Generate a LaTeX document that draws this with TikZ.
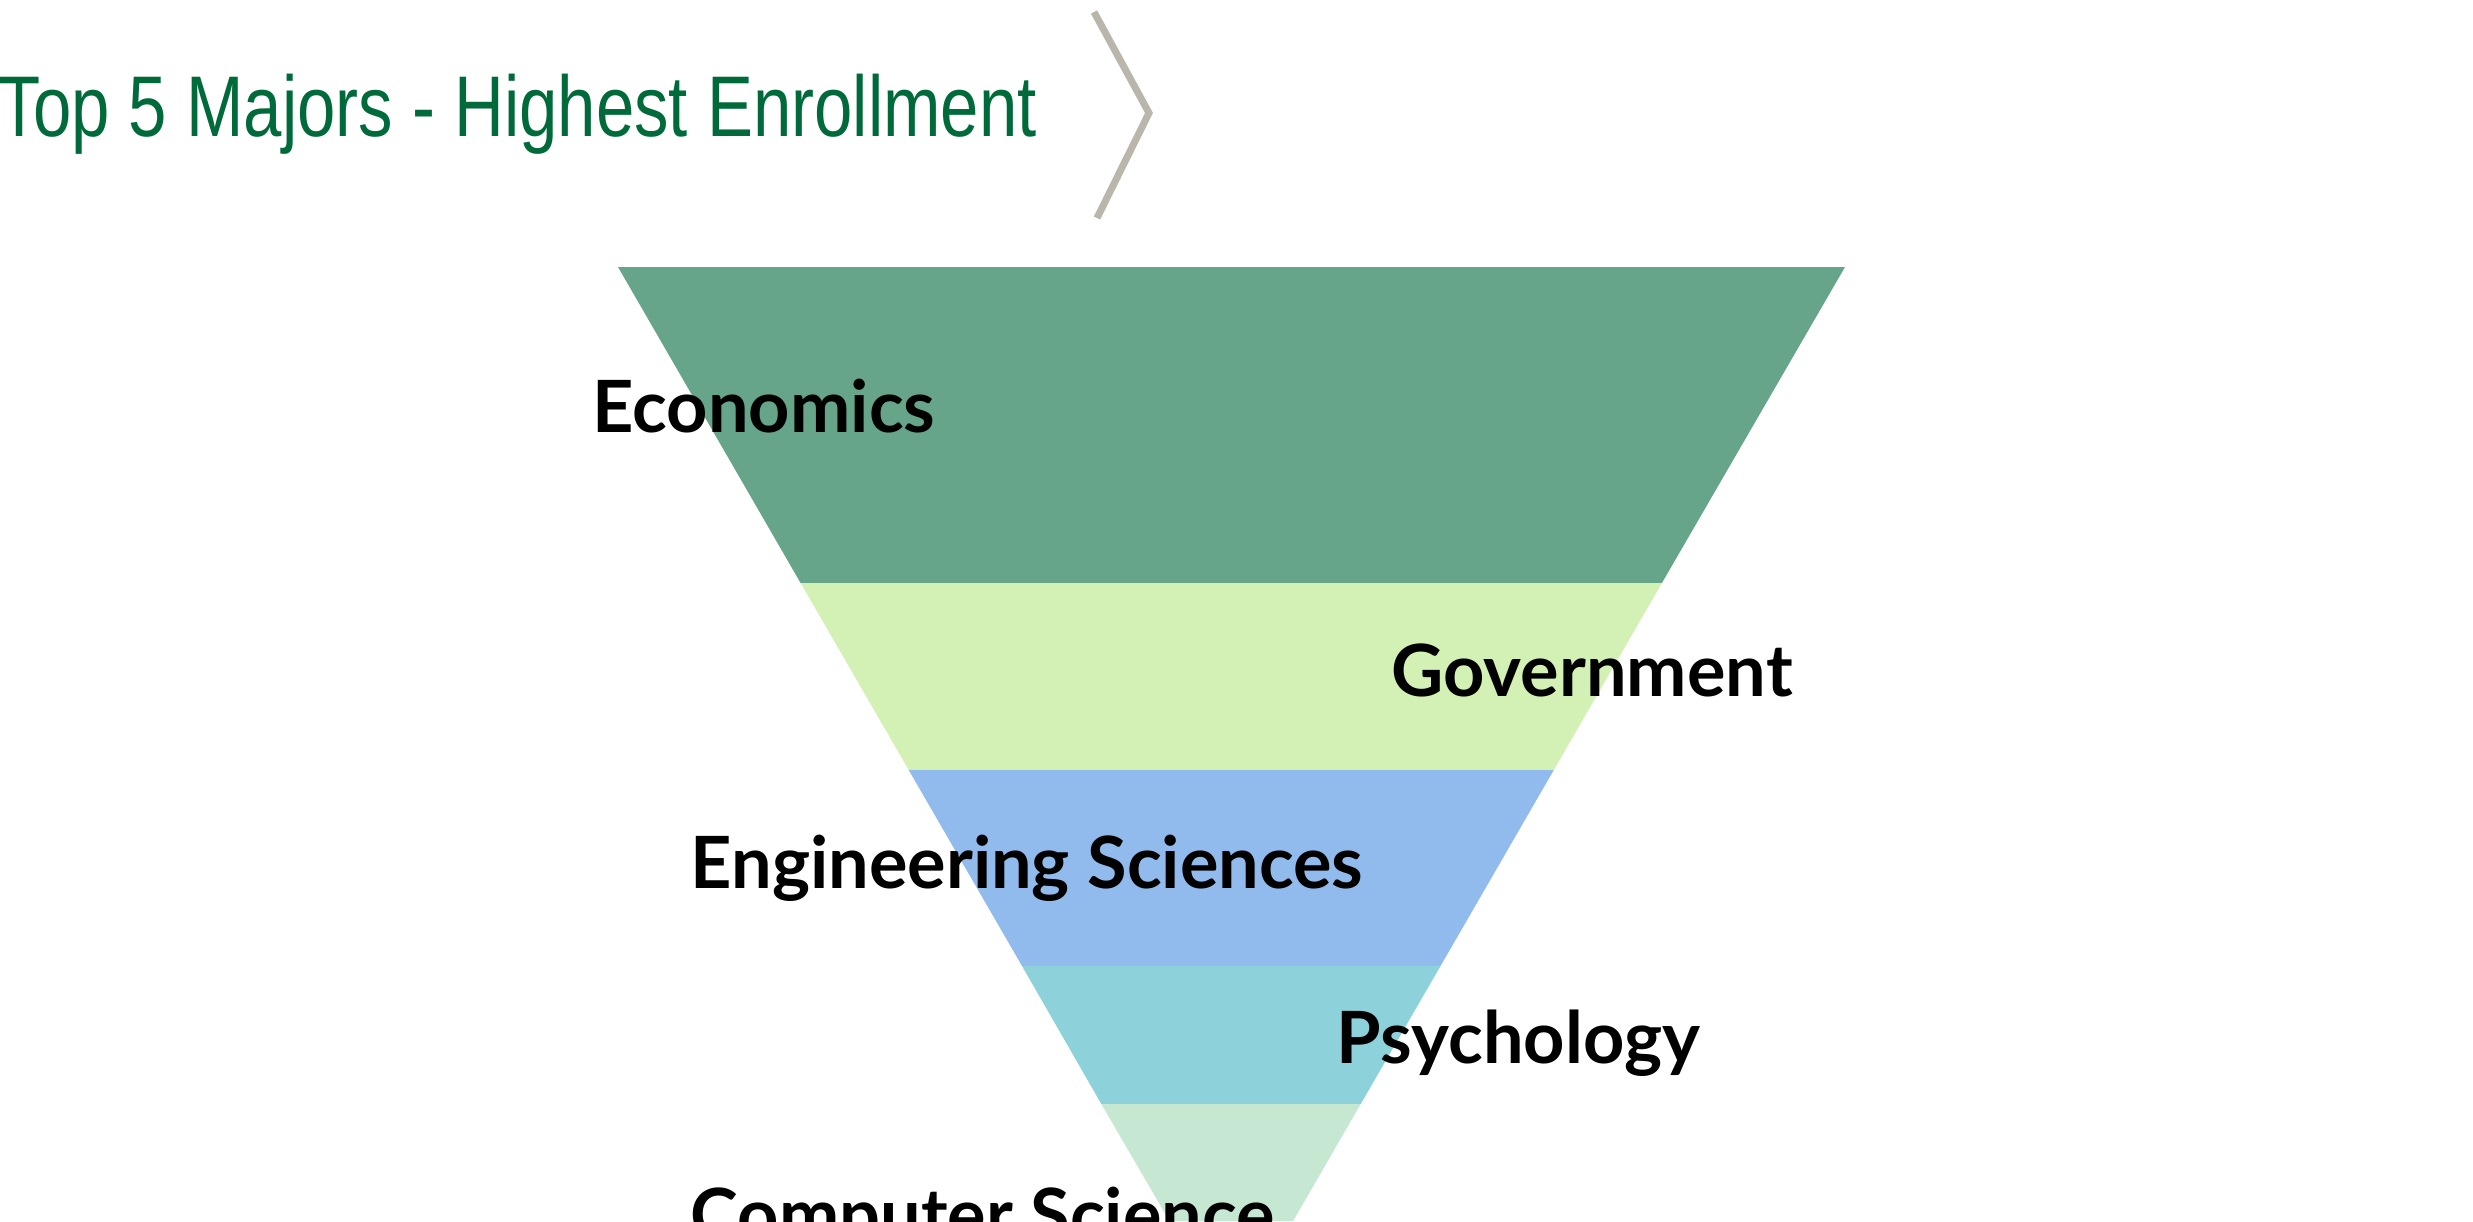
\documentclass[tikz,border=0pt]{standalone}
\usepackage{fontspec}
\setmainfont{Lato}
\newfontfamily\titlefont{Liberation Sans}[FakeStretch=0.8]
\usetikzlibrary{positioning}

\definecolor{titlegreen}{HTML}{006A3B}
\definecolor{chevgray}{HTML}{BAB6AC}
\definecolor{econfill}{HTML}{66A58A}
\definecolor{govfill}{HTML}{D3F1B5}
\definecolor{engfill}{HTML}{91BBEC}
\definecolor{psyfill}{HTML}{8DD2DB}
\definecolor{csfill}{HTML}{C6E8D3}

\begin{document}
\begin{tikzpicture}[x=0.01cm, y=-0.01cm,
    major/.style={anchor=base west, inner sep=0pt, font=\fontsize{20.5}{24}\selectfont\bfseries},
    heading/.style={anchor=base west, inner sep=0pt, text=titlegreen, font=\titlefont\fontsize{24.5}{29}\selectfont}]
            \useasboundingbox (0,0) rectangle (2473,1221);

            % Title and chevron
            \node[heading] (title) at (-2,136) {Top 5 Majors - Highest Enrollment};
            \draw[chevgray, line width=2pt] (1094,12) -- (1149,113) -- (1097,218);

            % Funnel bands
            \fill[econfill] (618,267) -- (1845,267) -- (1661.9,583) -- (800.6,583) -- cycle;
            \fill[govfill] (800.6,583) -- (1661.9,583) -- (1553.8,770) -- (908.7,770) -- cycle;
            \fill[engfill] (908.7,770) -- (1553.8,770) -- (1440.5,966) -- (1022,966) -- cycle;
            \fill[psyfill] (1022,966) -- (1440.5,966) -- (1360.7,1104) -- (1101.3,1104) -- cycle;
            \fill[csfill] (1101.3,1104) -- (1360.7,1104) -- (1293.1,1221) -- (1169.4,1221) -- cycle;

            % Labels
            \node[major] (econ) at (592,432) {Economics};
            \node[major] (gov) at (1391,696) {Government};
            \node[major] (eng) at (690,888) {Engineering Sciences};
            \node[major] (psy) at (1336,1063) {Psychology};
            \node[major] (cs) at (690,1240) {Computer Science};
        \end{tikzpicture}
\end{document}
